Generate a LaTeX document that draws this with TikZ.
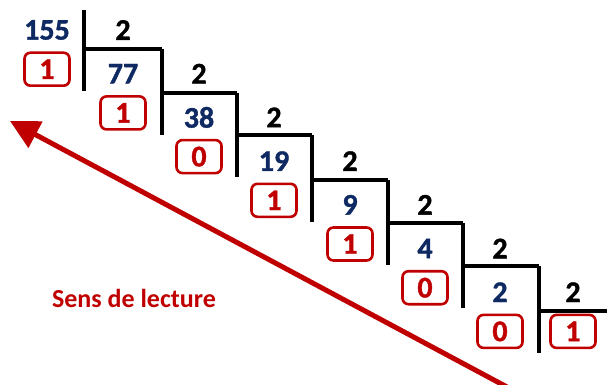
\documentclass[tikz,border=0pt]{standalone}
\usepackage{fontspec}
\setmainfont{Carlito}
\newfontfamily\heavynum{Carlito}[BoldFeatures={FakeBold=1.2}]
\usetikzlibrary{arrows.meta}
\definecolor{navy}{HTML}{0F2A62}
\definecolor{darkred}{HTML}{C00000}
\tikzset{
  num/.style={font=\heavynum\fontsize{30}{34}\selectfont\bfseries, text=navy, inner sep=0pt, anchor=center},
  divisor/.style={font=\heavynum\fontsize{30}{34}\selectfont\bfseries, text=black, inner sep=0pt, anchor=center},
  rem/.style={font=\heavynum\fontsize{30}{34}\selectfont\bfseries, text=darkred, draw=darkred, line width=2.6pt,
    rounded corners=6pt, minimum width=45pt, minimum height=33pt, inner sep=0pt, anchor=center},
  rule/.style={line width=3.2pt, black},
  readarrow/.style={darkred, line width=5pt, -{Triangle[length=29pt,width=29pt]}},
  caption/.style={font=\fontsize{26}{30}\selectfont\bfseries, text=darkred, inner sep=0pt}
}
\begin{document}
\begin{tikzpicture}[x=1pt,y=-1pt]
\useasboundingbox (0,0) rectangle (607,385);
% column centres and row positions
\def\cx{{47,123,199,274,350,425,500,573}}
\def\vx{{84,162,237,312,388,463,539,607}}
\def\hy{{49,93,135,180,223,266,311}}
% dividends and divisors
\foreach \v [count=\k from 0] in {155,77,38,19,9,4,2} {
  \pgfmathsetmacro{\xx}{\cx[\k]}
  \pgfmathsetmacro{\xt}{\cx[\k+1]}
  \pgfmathsetmacro{\yy}{30+43.7*\k}
  \node[num] (d\k) at (\xx,\yy) {\v};
  \node[divisor] (t\k) at (\xt,\yy) {2};
}
% remainders
\foreach \r [count=\k from 0] in {1,1,0,1,1,0,0} {
  \pgfmathsetmacro{\xx}{\cx[\k]}
  \pgfmathsetmacro{\yy}{30+43.7*(\k+1)-4.5}
  \node[rem] (r\k) at (\xx,\yy) {\r};
}
\node[rem] (q7) at (573,331.4) {1};
% rules
\foreach \k in {0,...,6} {
  \pgfmathsetmacro{\xa}{\vx[\k]}
  \pgfmathsetmacro{\xb}{\vx[\k+1]}
  \pgfmathsetmacro{\yh}{\hy[\k]}
  \pgfmathsetmacro{\yt}{\k==0 ? 10 : \hy[max(\k-1,0)]}
  \pgfmathsetmacro{\yb}{\yh+42}
  \draw[rule] (\xa,\yt) -- (\xa,\yb);
  \draw[rule] (\xa,\yh) -- (\xb,\yh);
}
% reading arrow
\coordinate (as) at (507,387);
\coordinate (ae) at (10,121);
\draw[readarrow] (as) -- (ae);
\node[caption] (cap) at (134,298) {Sens de lecture};
\end{tikzpicture}
\end{document}
